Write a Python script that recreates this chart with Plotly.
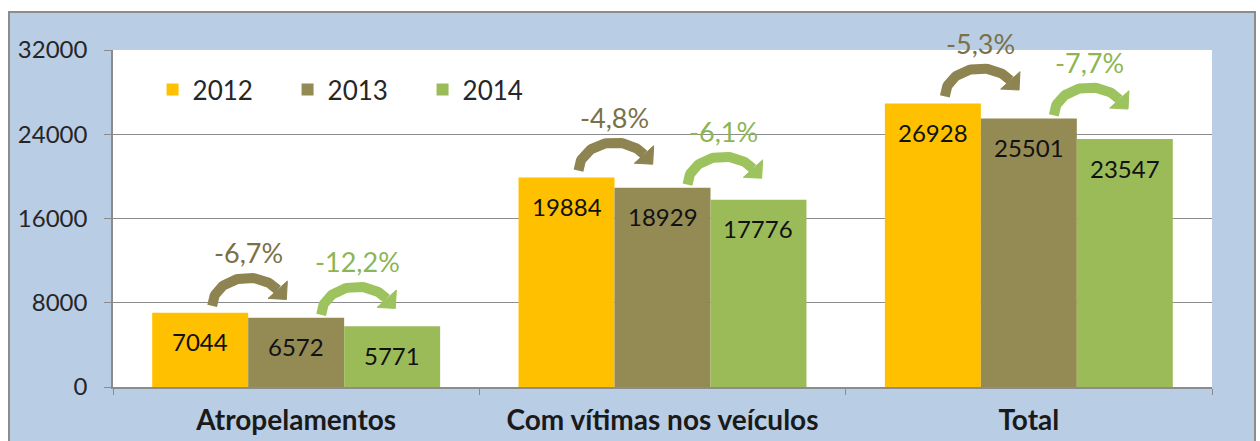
import numpy as np
import plotly.graph_objects as go

# ---------------- data ----------------
categories = ["Atropelamentos", "Com vítimas nos veículos", "Total"]
years = ["2012", "2013", "2014"]
v2012 = [7044, 19884, 26928]
v2013 = [6572, 18929, 25501]
v2014 = [5771, 17776, 23547]
ytick_vals = [0, 8000, 16000, 24000, 32000]
ytick_text = ["0", "8000", "16000", "24000", "32000"]

series = [v2012, v2013, v2014]
colors = ["#FFC000", "#948A54", "#9BBB59"]
pct_colors = ["#7A7148", "#8CB553"]
arc_colors = ["#8E8452", "#9DC35E"]

# ---------------- geometry helpers ----------------
W, H = 1260, 441
ml, mt = 113, 50
mr = W - 1212
mb = H - 387
pw = W - ml - mr
ph = H - mt - mb
YMAX = 32000
ux = pw / 3.0          # px per x unit
uy = ph / YMAX         # px per y unit
bargap = 0.214
bw = (1 - bargap) / 3  # width of one bar in x units

FONT = "Lato, 'Open Sans', sans-serif"
xpos = np.arange(len(categories))

fig = go.Figure()
for yr, vals, col in zip(years, series, colors):
    fig.add_trace(go.Bar(
        x=xpos, y=vals, name=yr,
        marker=dict(color=col, line=dict(width=0)),
        hoverinfo="skip",
    ))

annotations = []
# value labels inside bars
for k, vals in enumerate(series):
    for c, v in enumerate(vals):
        annotations.append(dict(
            x=c + (k - 1) * bw, y=v, text=str(v), showarrow=False,
            yshift=-29, font=dict(family=FONT, size=24, color="#111111"),
            xref="x", yref="y"))


def add_arc(cx, base, color, txt, txtcolor):
    rx, ry = 36.0, 28.0
    th = np.linspace(np.pi, np.radians(35), 50)
    xs = cx + rx * np.cos(th) / ux
    ys = base + ry * np.sin(th) / uy
    fig.add_trace(go.Scatter(x=xs, y=ys, mode="lines",
                             line=dict(color=color, width=10),
                             showlegend=False, hoverinfo="skip"))
    te = th[-1]
    p = np.array([rx * np.cos(te), ry * np.sin(te)])
    d = np.array([rx * np.sin(te), -ry * np.cos(te)])
    d = d / np.linalg.norm(d)
    n = np.array([-d[1], d[0]])
    L, Wh = 13.0, 26.0
    tip = p + d * L
    c1 = p + n * Wh / 2
    c2 = p - n * Wh / 2
    pts = [c1, tip, c2, c1]
    fig.add_trace(go.Scatter(
        x=[cx + q[0] / ux for q in pts], y=[base + q[1] / uy for q in pts],
        mode="lines", fill="toself", fillcolor=color,
        line=dict(color=color, width=1),
        showlegend=False, hoverinfo="skip"))
    annotations.append(dict(
        x=cx, y=base, text=txt, showarrow=False, yshift=ry + 25,
        font=dict(family=FONT, size=27, color=txtcolor),
        xref="x", yref="y"))


for c in range(len(categories)):
    for k in range(2):
        a, b = series[k][c], series[k + 1][c]
        pct = (b / a - 1) * 100
        txt = f"{pct:.1f}%".replace(".", ",")
        if k == 0:
            cx = c - bw / 2
            base = a + 7 / uy
        else:
            cx = c + bw / 2 + 13 / ux
            base = a + 3 / uy
        add_arc(cx, base, arc_colors[k], txt, pct_colors[k])

# ---------------- frame shapes (page pixel coords -> paper) ----------------
def fx(px):
    return (px - ml) / pw


def fy(py):
    return (H - mb - py) / ph


shapes = [
    dict(type="rect", xref="paper", yref="paper", layer="below",
         x0=fx(9), x1=fx(1255), y0=fy(470), y1=fy(12),
         fillcolor="#B9CDE5", line=dict(color="#8C8C8C", width=2)),
    dict(type="rect", xref="paper", yref="paper", layer="below",
         x0=0, x1=1, y0=0, y1=1, fillcolor="white", line=dict(width=0)),
]

fig.update_layout(
    width=W, height=H,
    margin=dict(l=ml, r=mr, t=mt, b=mb, autoexpand=False),
    paper_bgcolor="white", plot_bgcolor="rgba(0,0,0,0)",
    barmode="group", bargap=bargap, bargroupgap=0,
    shapes=shapes, annotations=annotations,
    font=dict(family=FONT, color="#262626"),
    legend=dict(orientation="h", x=0.036, y=0.952, xanchor="left", yanchor="top",
                bgcolor="rgba(0,0,0,0)", font=dict(size=26, color="#262626"),
                entrywidth=90, traceorder="normal"),
    xaxis=dict(range=[-0.5, 2.5], tickmode="array", tickvals=list(xpos),
               ticktext=[f"<b>{t}</b>" for t in categories], ticks="",
               tickfont=dict(family=FONT, size=28, color="#1a1a1a"),
               ticklabelstandoff=8, automargin=False,
               showline=True, linecolor="#8C8C8C", linewidth=1.5,
               showgrid=False, zeroline=False, fixedrange=True,
               minor=dict(tickmode="array", tickvals=[-0.5, 0.5, 1.5, 2.5],
                          ticks="outside", ticklen=6, tickcolor="#8C8C8C",
                          showgrid=False)),
    yaxis=dict(range=[0, YMAX], tickmode="array", tickvals=ytick_vals,
               ticktext=ytick_text, automargin=False,
               ticks="outside", ticklen=7, tickcolor="#8C8C8C",
               tickfont=dict(family=FONT, size=24, color="#262626"),
               ticklabelstandoff=12,
               showline=True, linecolor="#8C8C8C", linewidth=1.5,
               showgrid=True, gridcolor="#8C8C8C", gridwidth=1.2,
               zeroline=False, fixedrange=True),
)

fig.write_html(
    "out.html",
    config={"displayModeBar": False},
    post_script="document.body.style.margin='0';document.body.style.overflow='hidden';",
)
